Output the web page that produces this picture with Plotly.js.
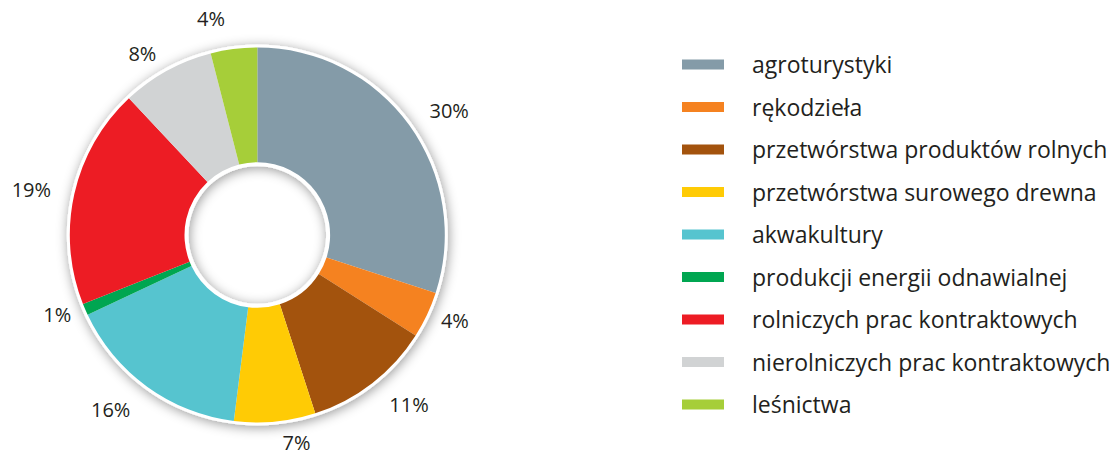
<!DOCTYPE html>
<html>
<head>
<meta charset="utf-8">
<script src="https://cdn.plot.ly/plotly-3.0.1.min.js"></script>
<style>
  html, body { margin: 0; padding: 0; background: #fff; }
  #chart { width: 1116px; height: 455px; }
</style>
</head>
<body>
<svg width="0" height="0" style="position:absolute">
  <defs>
    <filter id="ringShadow" x="-30%" y="-30%" width="160%" height="160%">
      <feDropShadow dx="1" dy="2" stdDeviation="6" flood-color="#000" flood-opacity="0.4"/>
    </filter>
  </defs>
</svg>
<div id="chart"></div>
<script>
// ---- data ----
const categories = [
  'agroturystyki',
  'rękodzieła',
  'przetwórstwa produktów rolnych',
  'przetwórstwa surowego drewna',
  'akwakultury',
  'produkcji energii odnawialnej',
  'rolniczych prac kontraktowych',
  'nierolniczych prac kontraktowych',
  'leśnictwa'
];
const shares = [30, 4, 11, 7, 16, 1, 19, 8, 4];
const colors = ['#849ba8', '#f58220', '#a3530d', '#ffcb05', '#56c4cf',
                '#00a651', '#ed1c24', '#d1d3d4', '#a6ce39'];

// ---- geometry (layout only) ----
const W = 1116, H = 455;
const CX = 258, CY = 235;          // donut centre in px (from top-left)
function domainFor(r) {
  return {
    x: [(CX - r) / W, (CX + r) / W],
    y: [(H - CY - r) / H, (H - CY + r) / H]
  };
}
const textColor = '#231f20';
const FONT = '"Open Sans", sans-serif';

const traces = [];

// white underlay ring (gives the white rim + shadow)
traces.push({
  type: 'pie', values: [1], labels: ['rim'], sort: false,
  domain: domainFor(191), hole: 69 / 191,
  marker: { colors: ['#ffffff'], line: { width: 0 } },
  textinfo: 'none', hoverinfo: 'skip', showlegend: false
});

// main donut
traces.push({
  type: 'pie', values: shares, labels: categories, sort: false,
  direction: 'clockwise', rotation: 0,
  domain: domainFor(188), hole: 73 / 188,
  marker: { colors: colors, line: { width: 0 } },
  textinfo: 'none', hoverinfo: 'label+percent', showlegend: false
});

// percentage labels: two transparent rings carrying outside text
// (alternate slices, so neighbouring labels never get pushed around)
function labelRing(radius, parity) {
  return {
    type: 'pie', values: shares, labels: categories, sort: false,
    direction: 'clockwise', rotation: 0,
    domain: domainFor(radius), hole: 0.9,
    marker: { colors: categories.map(() => 'rgba(0,0,0,0)'), line: { width: 0 } },
    textposition: categories.map((_, i) => (i % 2 === parity ? 'outside' : 'none')),
    texttemplate: '%{value}%',
    outsidetextfont: { family: FONT, size: 20, color: textColor },
    hoverinfo: 'skip', showlegend: false
  };
}
traces.push(labelRing(205, 0));
traces.push(labelRing(196, 1));

// legend entries (one per category)
const gap = '\u2002\u2002';
categories.forEach((c, i) => {
  traces.push({
    type: 'scatter', mode: 'lines', x: [null], y: [null],
    name: gap + c, legendgroup: 'g' + i,
    line: { color: colors[i], width: 16 },
    hoverinfo: 'skip', showlegend: true
  });
});

const layout = {
  width: W, height: H,
  margin: { l: 0, r: 0, t: 0, b: 0 },
  paper_bgcolor: '#ffffff', plot_bgcolor: '#ffffff',
  xaxis: { visible: false }, yaxis: { visible: false },
  showlegend: true,
  legend: {
    x: 0.6084, xanchor: 'left', y: 0.9055, yanchor: 'top',
    font: { family: FONT, size: 23, color: textColor },
    itemwidth: 42, tracegroupgap: 9.6, traceorder: 'grouped',
    bgcolor: 'rgba(0,0,0,0)'
  },
  font: { family: FONT, color: textColor }
};

Plotly.newPlot('chart', traces, layout, { staticPlot: true, displayModeBar: false }).then(gd => {
  const t = gd.querySelector('.pielayer .trace');
  if (t) t.setAttribute('filter', 'url(#ringShadow)');
});
</script>
</body>
</html>
